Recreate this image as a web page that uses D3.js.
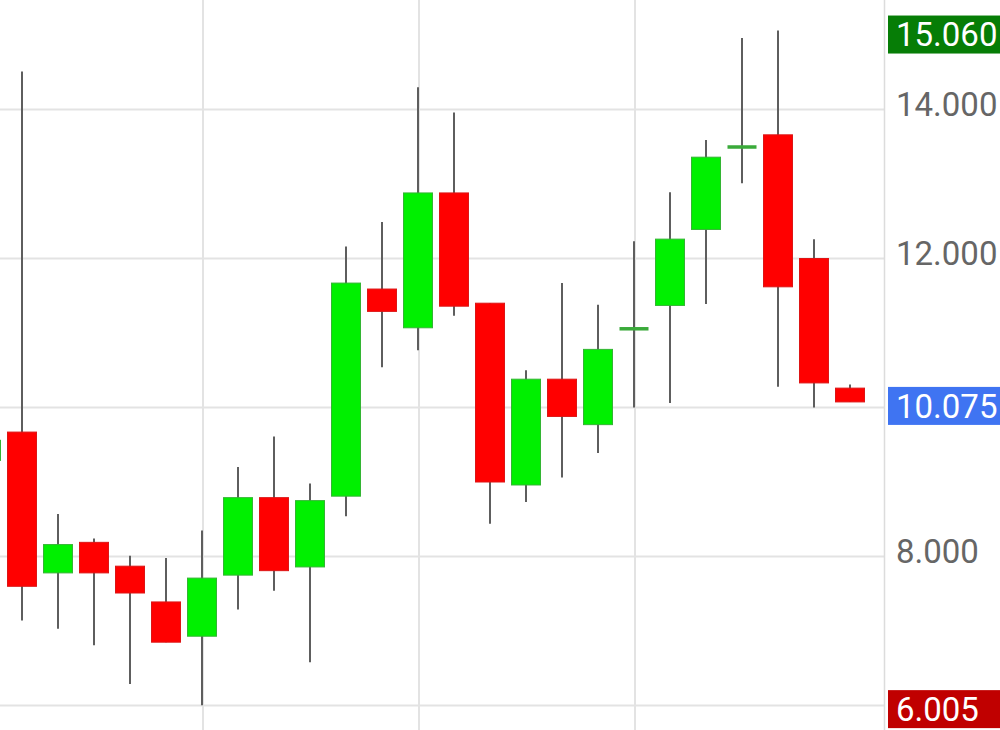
<!DOCTYPE html>
<html><head><meta charset="utf-8">
<script src="https://cdn.jsdelivr.net/npm/d3@7"></script>
<style>html,body{margin:0;padding:0;background:#fff;overflow:hidden}svg{display:block}</style>
</head><body>
<svg id="chart" width="1000" height="730"></svg>
<script>
// candle index (-1 is the partly hidden candle at the left edge)
const idx   = [-1,0,1,2,3,4,5,6,7,8,9,10,11,12,13,14,15,16,17,18,19,20,21,22,23];
const opens = [9.29,9.67,7.78,8.19,7.87,7.39,6.93,7.75,8.79,7.86,8.81,11.59,11.07,12.88,11.40,8.96,10.38,9.77,11.05,11.37,12.39,13.49,13.66,12.00,10.26];
const highs = [9.70,14.51,8.57,8.24,8.01,7.98,8.35,9.20,9.61,8.98,12.16,12.49,14.30,13.96,11.40,10.50,11.67,11.38,12.23,12.89,13.59,14.96,15.06,12.26,10.31];
const lows  = [9.20,7.14,7.03,6.81,6.29,6.85,6.005,7.29,7.54,6.58,8.54,10.54,10.77,11.23,8.44,8.73,9.06,9.39,10.00,10.06,11.39,13.01,10.28,10.00,10.075];
const closes= [9.56,7.60,8.16,7.78,7.51,6.85,7.71,8.79,7.81,8.75,11.67,11.29,12.88,11.36,9.00,10.38,9.88,10.78,11.06,12.26,13.36,13.50,11.62,10.33,10.075];
const gridTicks = [6,8,10,12,14];
const labelTicks = [8,12,14];   // 10.000 and 6.000 are covered by the price boxes
const xGridIdx = [5,11,17];
const markers = [
  {value:15.060, label:"15.060", color:"#067d06"},
  {value:10.075, label:"10.075", color:"#3f74f2"},
  {value:6.005,  label:"6.005",  color:"#c00000"}
];

const svg = d3.select("#chart");
const plotRight = 884;
const x = d3.scaleLinear().domain([0,23]).range([22,850]);
const y = d3.scaleLinear().domain([6,14]).range([705.5,109.5]);
const bodyW = 29;

const data = idx.map((d,i)=>({i:d,o:opens[i],h:highs[i],l:lows[i],c:closes[i]}));

const plot = svg.append("g");
// grid
plot.selectAll("line.hg").data(gridTicks).join("line")
  .attr("x1",0).attr("x2",plotRight)
  .attr("y1",d=>y(d)).attr("y2",d=>y(d))
  .attr("stroke","#e3e3e3").attr("stroke-width",2);
plot.selectAll("line.vg").data(xGridIdx).join("line")
  .attr("x1",d=>x(d)+1).attr("x2",d=>x(d)+1)
  .attr("y1",0).attr("y2",730)
  .attr("stroke","#e3e3e3").attr("stroke-width",2);
// axis separator
svg.append("line").attr("x1",plotRight+0.5).attr("x2",plotRight+0.5).attr("y1",0).attr("y2",730)
  .attr("stroke","#dcdcdc").attr("stroke-width",1.5);

// wicks
plot.selectAll("line.wick").data(data).join("line")
  .attr("x1",d=>x(d.i)).attr("x2",d=>x(d.i))
  .attr("y1",d=>y(d.h)).attr("y2",d=>y(d.l))
  .attr("stroke","#5e5e5e").attr("stroke-width",2);

// bodies
const isDoji = d => Math.abs(y(d.o)-y(d.c))<3;
plot.selectAll("rect.body").data(data).join("rect")
  .attr("x",d=>x(d.i)-bodyW/2)
  .attr("width",bodyW)
  .attr("y",d=>isDoji(d) ? y(d.c)-1.5 : y(Math.max(d.o,d.c)))
  .attr("height",d=>isDoji(d) ? 3.5 : Math.abs(y(d.o)-y(d.c)))
  .attr("fill",d=> isDoji(d) ? "#3aaa3a" : (d.c>=d.o ? "#00f000" : "#ff0000"))
  .attr("stroke",d=> isDoji(d) ? "none" : (d.c>=d.o ? "#33b533" : "#dd1515"))
  .attr("stroke-width",1);

// right axis
const axis = d3.axisRight(y).tickValues(labelTicks).tickFormat(d3.format(".3f")).tickSize(0).tickPadding(0);
const ag = svg.append("g").attr("transform",`translate(896,0)`).call(axis);
ag.select(".domain").remove();
ag.selectAll("text").attr("font-family","Roboto").attr("font-size",33).attr("fill","#666")
  .attr("x",0).attr("y",-6).attr("dy","0.36em");

// price markers
const mg = svg.selectAll("g.mk").data(markers).join("g").attr("transform",d=>`translate(888,${y(d.value)+4})`);
mg.append("rect").attr("x",0).attr("y",-19).attr("width",112).attr("height",38).attr("fill",d=>d.color);
mg.append("text").text(d=>d.label).attr("x",8).attr("dy","0.36em")
  .attr("font-family","Roboto").attr("font-size",33).attr("fill","#fff");
</script>
</body></html>
